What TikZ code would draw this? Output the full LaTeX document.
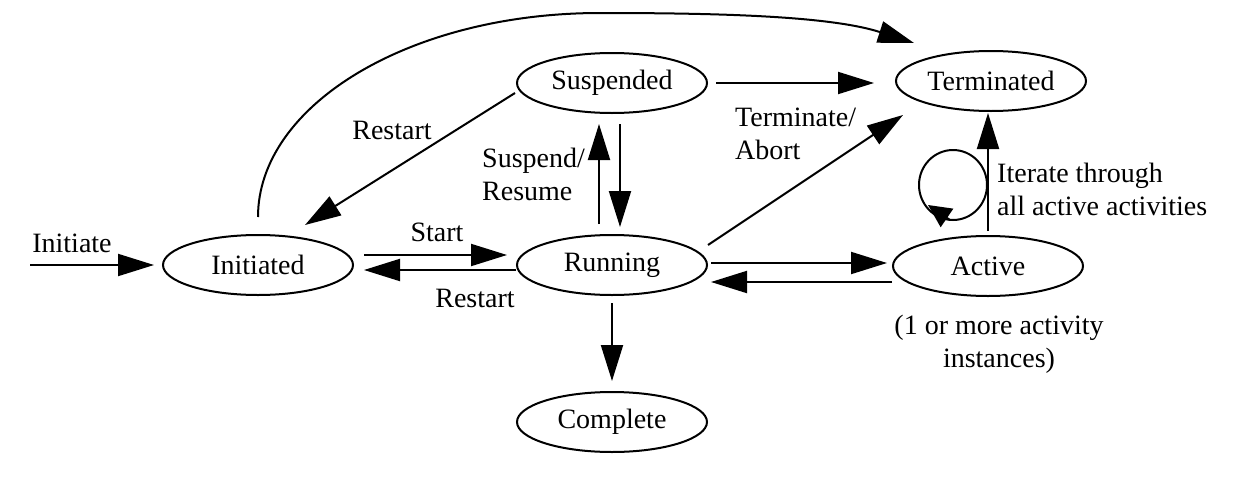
\documentclass[tikz,border=0pt]{standalone}
\usepackage{fontspec}
\setmainfont{Liberation Serif}
\usetikzlibrary{shapes.geometric,arrows.meta}
\begin{document}
\begin{tikzpicture}[x=1pt,y=-1pt,
  state/.style={ellipse,draw,line width=2pt,minimum width=190pt,minimum height=60pt,inner sep=0pt,font=\fontsize{28}{33}\selectfont},
  lbl/.style={font=\fontsize{28}{33}\selectfont,inner sep=0pt},
  arr/.style={line width=2pt,-{Triangle[length=36pt,width=22pt]}},
  looparr/.style={line width=2pt,-{Triangle[length=23pt,width=22pt]}}]
\useasboundingbox (0,0) rectangle (1240,482);
\node[state] (ini) at (258,265) {Initiated};
\node[state] (sus) at (612,83) {Suspended};
\node[state] (run) at (612,265) {Running};
\node[state] (ter) at (991,81) {Terminated};
\node[state] (act) at (988,266) {Active};
\node[state] (com) at (612,422) {Complete};

\coordinate (src) at (30,265);
\draw[arr] (src) -- ([xshift=-8pt]ini.west);
\draw[arr] ([xshift=10pt,yshift=10pt]ini.east) -- ([xshift=-9pt,yshift=10pt]run.west);
\draw[arr] ([yshift=-5pt]run.west) -- ([xshift=10pt,yshift=-5pt]ini.east);
\draw[arr] ([xshift=3pt,yshift=2pt]run.east) -- ([xshift=-5pt,yshift=3pt]act.west);
\draw[arr] ([yshift=-16pt]act.west) -- ([xshift=3pt,yshift=-17pt]run.east);
\draw[arr] ([xshift=-13pt,yshift=10pt]run.north) -- ([xshift=-13pt,yshift=-10pt]sus.south);
\draw[arr] ([xshift=8pt,yshift=-10pt]sus.south) -- ([xshift=8pt,yshift=7pt]run.north);
\coordinate (t1) at (sus.east -| ter.west);
\draw[arr] ([xshift=8pt]sus.east) -- ([xshift=-21pt]t1);
\draw[arr] ([yshift=20pt]run.east) -- ([shift={(-88pt,-34pt)}]ter.center);
\draw[arr] ([shift={(-97pt,-10pt)}]sus.center) -- ([shift={(47pt,40pt)}]ini.center);
\coordinate (apex) at (600,13);
\draw[arr] ([yshift=17pt]ini.north) .. controls (258,105) and (410,13) .. (apex)
  .. controls (720,13) and (830,16) .. ([shift={(-77pt,38pt)}]ter.center);
\coordinate (t2) at (act.north |- ter.south);
\draw[arr] ([yshift=4pt]act.north) -- ([yshift=-1pt]t2);
\draw[arr] ([yshift=-7pt]run.south) -- ([yshift=10pt]com.north);

\coordinate (lc) at (953,185);
\draw[line width=2pt] (lc) circle[x radius=34pt,y radius=35pt];
\coordinate (la) at (950,220);
\coordinate (lb) at (928,205);
\draw[looparr] (la) -- (lb);

\node[lbl] (l1) at (72,243) {Initiate};
\node[lbl] (l2) at (437,232) {Start};
\node[lbl] (l3) at (475,298) {Restart};
\node[lbl] (l4) at (392,130) {Restart};
\node[lbl,align=left,anchor=west] (l5) at (482,174) {Suspend/\\Resume};
\node[lbl,align=left,anchor=west] (l6) at (735,134) {Terminate/\\Abort};
\node[lbl,align=left,anchor=west] (l7) at (997,189) {Iterate through\\all active activities};
\node[lbl,align=center] (l8) at (999,344) {(1 or more activity\\instances)};
\end{tikzpicture}
\end{document}
